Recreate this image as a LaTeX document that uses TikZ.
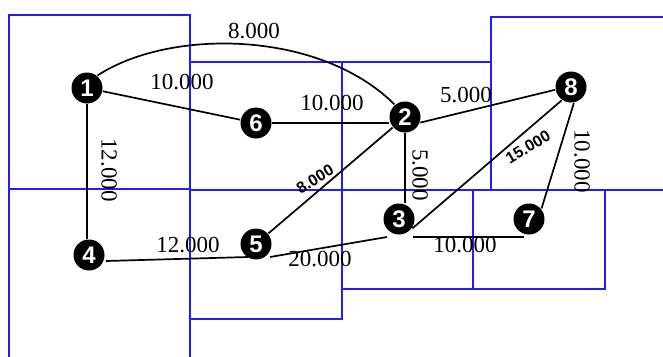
\documentclass[tikz,border=0pt]{standalone}
\usepackage{fontspec}
\setmainfont{Liberation Serif}
\newfontfamily\nodefont{Liberation Sans}
\usetikzlibrary{calc}
\definecolor{boxblue}{RGB}{30,30,255}

\begin{document}
\begin{tikzpicture}[x=1pt, y=-1pt, line width=1.7pt,
  vtx/.style={circle, fill=black, text=white, minimum size=31pt, inner sep=0pt,
              font=\nodefont\bfseries\fontsize{24}{24}\selectfont},
  wt/.style={font=\fontsize{23}{23}\selectfont, inner sep=0pt},
  wtb/.style={font=\nodefont\bfseries\fontsize{16}{16}\selectfont, inner sep=0pt, rotate=31},
  cell/.style={draw=boxblue, line width=1.1pt}]
  \useasboundingbox (0,0) rectangle (663,356);
  \clip (0,0) rectangle (663,356);

  % layout cells
  \draw[cell] (9,15) rectangle (190,189);
  \draw[cell] (9,189) rectangle (190,370);
  \draw[cell] (190,62) rectangle (342,190);
  \draw[cell] (342,62) rectangle (491,190);
  \draw[cell] (491,17) rectangle (680,190);
  \draw[cell] (190,190) rectangle (342,319);
  \draw[cell] (342,190) rectangle (473,289);
  \draw[cell] (473,190) rectangle (605,289);

  % vertices
  \node[vtx] (n1) at (87,88) {1};
  \node[vtx] (n6) at (256,123) {6};
  \node[vtx] (n2) at (405,117) {2};
  \node[vtx] (n8) at (571,87) {8};
  \node[vtx] (n4) at (89,255) {4};
  \node[vtx] (n5) at (256,244) {5};
  \node[vtx] (n3) at (399,219) {3};
  \node[vtx] (n7) at (529,219) {7};

  % edges
  \draw (n1.50) .. controls (170,28) and (320,30) .. (n2.130);
  \draw (n1) -- (n6);
  \draw (n6.east) -- (n6.east -| n2.west);
  \draw (n1.south) -- (n1.south |- n4.north);
  \draw ([shift={(17,6)}]n4.center) -- ([shift={(-8,13)}]n5.center);
  \draw (n5) -- (n2);
  \draw ([shift={(14,13)}]n5.center) -- ([shift={(-12,18)}]n3.center);
  \draw (n2.south) -- (n2.south |- n3.north);
  \draw (n2.-20) -- (n8.190);
  \draw (n3.-35) -- (n8.235);
  \draw (n8.-80) -- (n7.40);
  \draw ([shift={(14,18)}]n3.center) -- ([shift={(-5,18)}]n7.center);

  % weights
  \node[wt] (w12) at (254,31) {8.000};
  \node[wt] (w16) at (182,82) {10.000};
  \node[wt] (w62) at (332,103) {10.000};
  \node[wt, rotate=-90] (w14) at (109,170) {12.000};
  \node[wt] (w45) at (188,245) {12.000};
  \node[wtb] (w52) at (315,179) {8.000};
  \node[wt] (w53) at (320,259) {20.000};
  \node[wt, rotate=-90] (w23) at (420,175) {5.000};
  \node[wt] (w28) at (466,95) {5.000};
  \node[wtb] (w38) at (528,147) {15.000};
  \node[wt, rotate=-90] (w87) at (582,161) {10.000};
  \node[wt] (w37) at (465,245) {10.000};
\end{tikzpicture}
\end{document}
